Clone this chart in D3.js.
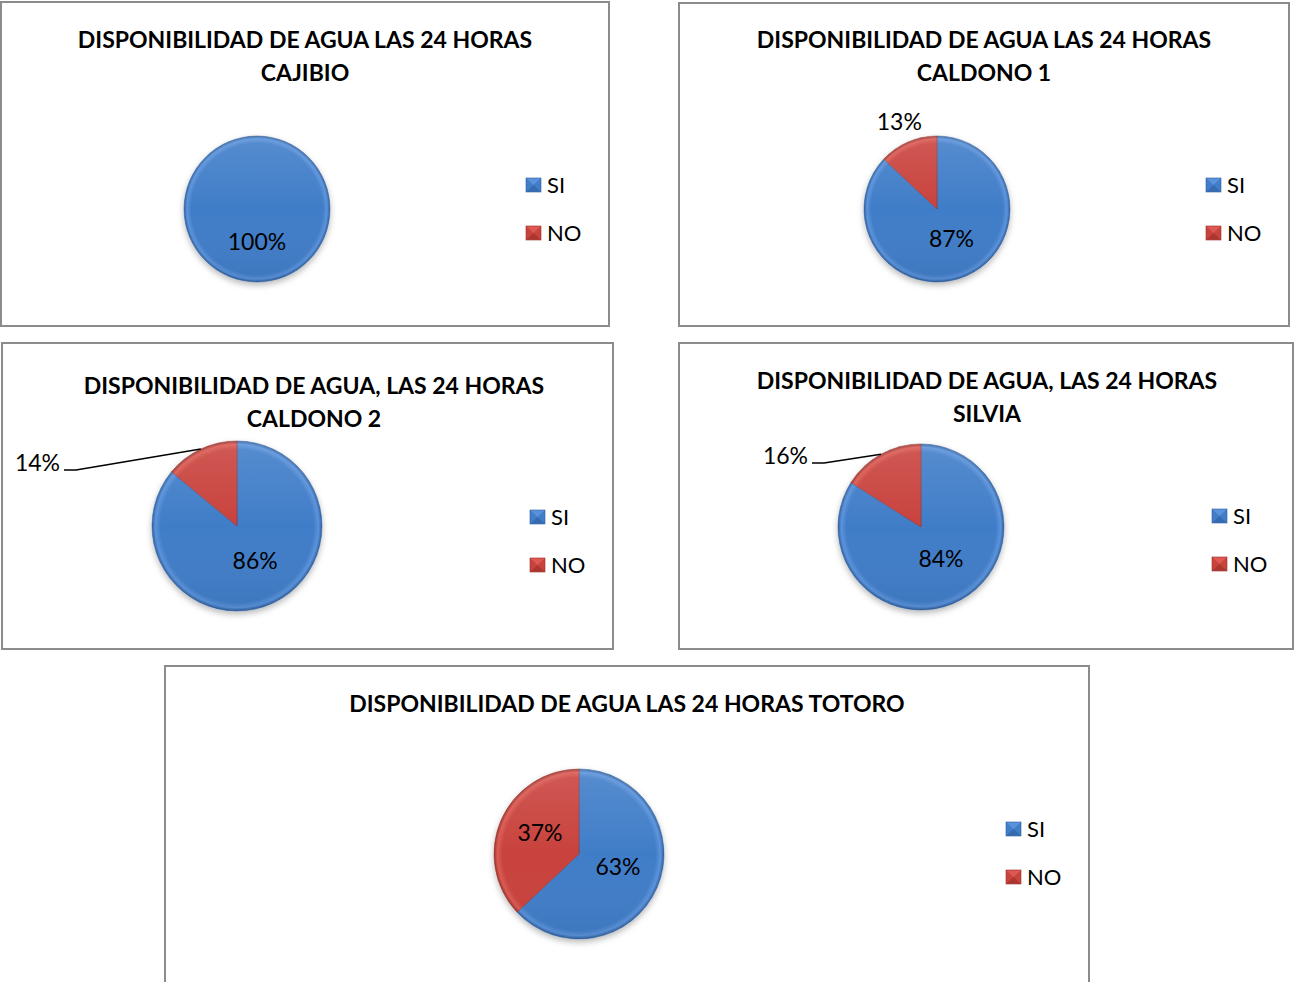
<!DOCTYPE html>
<html>
<head>
<meta charset="utf-8">
<script src="https://cdn.jsdelivr.net/npm/d3@7"></script>
<style>
  body { margin: 0; background: #fff; }
  svg { display: block; }
  text { font-family: Lato, "Open Sans", sans-serif; fill: #000; }
</style>
</head>
<body>
<div id="chart"></div>
<script>
const width = 1294;
const height = 982;

// data
const categories = ["SI", "NO"];
const cajibio = [100, 0];
const caldono1 = [87, 13];
const caldono2 = [86, 14];
const silvia = [84, 16];
const totoro = [63, 37];

const titleCajibio = ["DISPONIBILIDAD DE AGUA LAS 24 HORAS", "CAJIBIO"];
const titleCaldono1 = ["DISPONIBILIDAD DE AGUA LAS 24 HORAS", "CALDONO 1"];
const titleCaldono2 = ["DISPONIBILIDAD DE AGUA, LAS 24 HORAS", "CALDONO 2"];
const titleSilvia = ["DISPONIBILIDAD DE AGUA, LAS 24 HORAS", "SILVIA"];
const titleTotoro = ["DISPONIBILIDAD DE AGUA LAS 24 HORAS TOTORO"];

const baseColors = ["#417dc8", "#c9433d"];
const lightColors = ["#5a93dc", "#dc5a53"];
const darkColors = ["#2f5f9e", "#98302b"];

// layout of each panel
const panels = [
  { x: 1, y: 2, w: 608, h: 324, tx: 305, ty: 48, cx: 257, cy: 209, r: 73, lx: 526, ly: 178, values: cajibio, title: titleCajibio },
  { x: 679, y: 3, w: 610, h: 323, tx: 984, ty: 48, cx: 937, cy: 209, r: 73, lx: 1206, ly: 178, values: caldono1, title: titleCaldono1 },
  { x: 2, y: 343, w: 611, h: 306, tx: 314, ty: 394, cx: 237, cy: 526, r: 85, lx: 530, ly: 510, values: caldono2, title: titleCaldono2, leader: [60, 470] },
  { x: 679, y: 343, w: 614, h: 306, tx: 987, ty: 389, cx: 921, cy: 527, r: 83, lx: 1212, ly: 509, values: silvia, title: titleSilvia, leader: [808, 463] },
  { x: 165, y: 666, w: 924, h: 340, tx: 627, ty: 712, cx: 579, cy: 854, r: 85, lx: 1006, ly: 822, values: totoro, title: titleTotoro }
];

const svg = d3.select("#chart")
  .append("svg")
  .attr("width", width)
  .attr("height", height);

const defs = svg.append("defs");

const shadow = defs.append("filter")
  .attr("id", "shadow")
  .attr("x", "-20%").attr("y", "-20%")
  .attr("width", "140%").attr("height", "140%");
shadow.append("feDropShadow")
  .attr("dx", 0).attr("dy", 3)
  .attr("stdDeviation", 3)
  .attr("flood-color", "#000")
  .attr("flood-opacity", 0.28);

// soft top light over the whole pie
const gloss = defs.append("linearGradient")
  .attr("id", "gloss")
  .attr("x1", 0).attr("y1", 0)
  .attr("x2", 0).attr("y2", 1);
gloss.append("stop").attr("offset", "0%").attr("stop-color", "#fff").attr("stop-opacity", 0.12);
gloss.append("stop").attr("offset", "50%").attr("stop-color", "#fff").attr("stop-opacity", 0);
gloss.append("stop").attr("offset", "100%").attr("stop-color", "#000").attr("stop-opacity", 0.06);

const pct = d3.format(".0%");
const pie = d3.pie().sort(null).value(d => d);

panels.forEach((p, i) => {
  const g = svg.append("g");

  // frame
  g.append("rect")
    .attr("x", p.x)
    .attr("y", p.y)
    .attr("width", p.w)
    .attr("height", p.h)
    .attr("fill", "#fff")
    .attr("stroke", "#8c8c8c")
    .attr("stroke-width", 2);

  // title
  p.title.forEach((line, k) => {
    g.append("text")
      .attr("x", p.tx)
      .attr("y", p.ty + k * 33)
      .attr("text-anchor", "middle")
      .style("font-size", "23px")
      .style("font-weight", "bold")
      .text(line);
  });

  // gradients for the bevel look (pie group is translated to the centre)
  baseColors.forEach((c, k) => {
    const grad = defs.append("radialGradient")
      .attr("id", `grad${i}-${k}`)
      .attr("gradientUnits", "userSpaceOnUse")
      .attr("cx", 0)
      .attr("cy", 0)
      .attr("r", p.r);
    grad.append("stop").attr("offset", "0%").attr("stop-color", c);
    grad.append("stop").attr("offset", "90%").attr("stop-color", c);
    grad.append("stop").attr("offset", "96%").attr("stop-color", lightColors[k]);
    grad.append("stop").attr("offset", "100%").attr("stop-color", darkColors[k]);
  });

  const arcs = pie(p.values);
  const arc = d3.arc().innerRadius(0).outerRadius(p.r);
  const edgeArc = d3.arc().innerRadius(p.r).outerRadius(p.r);

  const pieG = g.append("g")
    .attr("transform", `translate(${p.cx},${p.cy})`);

  const slices = pieG.append("g")
    .attr("filter", "url(#shadow)");

  slices.selectAll("path")
    .data(arcs.filter(d => d.value > 0))
    .enter()
    .append("path")
    .attr("d", arc)
    .attr("fill", d => `url(#grad${i}-${d.index})`)
    .attr("stroke", d => darkColors[d.index])
    .attr("stroke-width", 0.5);

  pieG.append("circle")
    .attr("r", p.r)
    .attr("fill", "url(#gloss)")
    .attr("pointer-events", "none");

  // data labels
  const total = d3.sum(p.values);
  arcs.filter(d => d.value > 0).forEach(d => {
    const share = d.value / total;
    let pos;
    let anchor = "middle";
    if (share >= 0.2) {
      const c = edgeArc.centroid(d);
      pos = [c[0] * 0.5, c[1] * 0.5 - 4];
    } else if (p.leader) {
      const e = edgeArc.centroid(d);
      const sx = p.leader[0] - p.cx;
      const sy = p.leader[1] - p.cy;
      pieG.append("path")
        .attr("d", `M${sx + 4},${sy} L${sx + 16},${sy} L${e[0]},${e[1]}`)
        .attr("fill", "none")
        .attr("stroke", "#000")
        .attr("stroke-width", 1.5);
      pos = [sx, sy - 7];
      anchor = "end";
    } else {
      const o = edgeArc.centroid(d);
      pos = [o[0] * 1.3, o[1] * 1.3];
    }
    pieG.append("text")
      .attr("x", pos[0])
      .attr("y", pos[1])
      .attr("dy", "0.35em")
      .attr("text-anchor", anchor)
      .style("font-size", "23px")
      .text(pct(share));
  });

  // legend
  const legend = g.append("g")
    .attr("transform", `translate(${p.lx},${p.ly})`);

  categories.forEach((cat, k) => {
    const row = legend.append("g")
      .attr("transform", `translate(0,${k * 48})`);
    row.append("rect")
      .attr("width", 15)
      .attr("height", 14)
      .attr("fill", baseColors[k])
      .attr("stroke", darkColors[k])
      .attr("stroke-width", 0.6);
    row.append("path")
      .attr("d", "M0.5,0.5 L14.5,0.5 L7.5,7 Z")
      .attr("fill", lightColors[k]);
    row.append("path")
      .attr("d", "M0.5,13.5 L14.5,13.5 L7.5,7 Z")
      .attr("fill", darkColors[k])
      .attr("opacity", 0.6);
    row.append("text")
      .attr("x", 21)
      .attr("y", 7)
      .attr("dy", "0.36em")
      .style("font-size", "22px")
      .text(cat);
  });
});
</script>
</body>
</html>
